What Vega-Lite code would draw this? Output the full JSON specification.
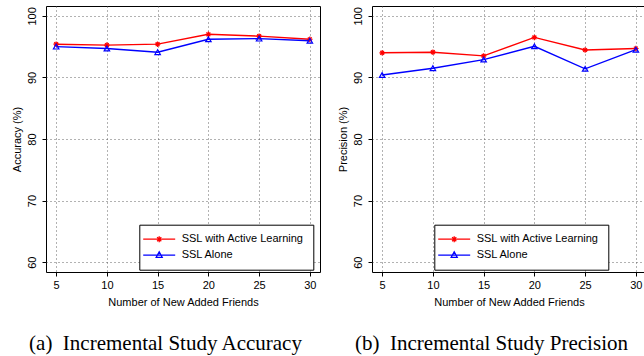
{
  "$schema": "https://vega.github.io/schema/vega-lite/v6.json",
  "padding": {"left": 10, "top": 5, "right": 0, "bottom": 0},
  "background": "white",
  "spacing": 15,
  "data": {"values": [
    {"panel": "acc", "friends": 5, "series": "SSL with Active Learning", "value": 95.4},
    {"panel": "acc", "friends": 10, "series": "SSL with Active Learning", "value": 95.25},
    {"panel": "acc", "friends": 15, "series": "SSL with Active Learning", "value": 95.4},
    {"panel": "acc", "friends": 20, "series": "SSL with Active Learning", "value": 97.0},
    {"panel": "acc", "friends": 25, "series": "SSL with Active Learning", "value": 96.7},
    {"panel": "acc", "friends": 30, "series": "SSL with Active Learning", "value": 96.2},
    {"panel": "acc", "friends": 5, "series": "SSL Alone", "value": 95.0},
    {"panel": "acc", "friends": 10, "series": "SSL Alone", "value": 94.7},
    {"panel": "acc", "friends": 15, "series": "SSL Alone", "value": 94.1},
    {"panel": "acc", "friends": 20, "series": "SSL Alone", "value": 96.2},
    {"panel": "acc", "friends": 25, "series": "SSL Alone", "value": 96.3},
    {"panel": "acc", "friends": 30, "series": "SSL Alone", "value": 95.95},
    {"panel": "prec", "friends": 5, "series": "SSL with Active Learning", "value": 94.0},
    {"panel": "prec", "friends": 10, "series": "SSL with Active Learning", "value": 94.1},
    {"panel": "prec", "friends": 15, "series": "SSL with Active Learning", "value": 93.5},
    {"panel": "prec", "friends": 20, "series": "SSL with Active Learning", "value": 96.5},
    {"panel": "prec", "friends": 25, "series": "SSL with Active Learning", "value": 94.45},
    {"panel": "prec", "friends": 30, "series": "SSL with Active Learning", "value": 94.7},
    {"panel": "prec", "friends": 5, "series": "SSL Alone", "value": 90.4},
    {"panel": "prec", "friends": 10, "series": "SSL Alone", "value": 91.5},
    {"panel": "prec", "friends": 15, "series": "SSL Alone", "value": 92.9},
    {"panel": "prec", "friends": 20, "series": "SSL Alone", "value": 95.05},
    {"panel": "prec", "friends": 25, "series": "SSL Alone", "value": 91.4},
    {"panel": "prec", "friends": 30, "series": "SSL Alone", "value": 94.5}
  ]},
  "resolve": {"scale": {"color": "independent", "y": "independent", "x": "independent"}, "legend": {"color": "independent"}},
  "hconcat": [
    {
      "width": 274,
      "height": 266,
      "transform": [{"filter": "datum.panel === 'acc'"}],
      "title": {"text": "(a)\u00a0 Incremental Study Accuracy", "orient": "bottom", "anchor": "middle", "frame": "bounds", "font": "Liberation Serif", "fontSize": 21, "fontWeight": "normal", "color": "black", "baseline": "alphabetic", "offset": 43},
      "encoding": {
        "x": {"field": "friends", "type": "quantitative", "scale": {"domain": [4, 31], "nice": false, "zero": false}, "axis": {"values": [5, 10, 15, 20, 25, 30], "title": "Number of New Added Friends", "labelPadding": 3, "titlePadding": 6}},
        "y": {"field": "value", "type": "quantitative", "scale": {"domain": [58.4, 101.6], "nice": false, "zero": false}, "axis": {"values": [60, 70, 80, 90, 100], "title": "Accuracy (%)", "labelAngle": 270, "labelAlign": "center", "labelBaseline": "bottom", "labelPadding": 5, "titlePadding": 4}},
        "color": {"field": "series", "type": "nominal", "scale": {"domain": ["SSL with Active Learning", "SSL Alone"], "range": ["#ff0000", "#0000ff"]}}
      },
      "layer": [
        {"mark": {"type": "line", "strokeWidth": 1.4},
         "encoding": {"color": {"field": "series", "type": "nominal", "scale": {"domain": ["SSL with Active Learning", "SSL Alone"], "range": ["#ff0000", "#0000ff"]},
           "legend": {"title": null, "orient": "none", "legendX": 93.3, "legendY": 218.7, "padding": 9, "strokeColor": "black", "fillColor": "white", "symbolSize": 36, "symbolOffset": 5.4, "labelOffset": 17, "rowPadding": 3, "labelFont": "Liberation Sans", "labelFontSize": 11, "labelColor": "black",
             "encode": {"symbols": {"update": {"shape": {"signal": "datum.value === 'SSL Alone' ? 'M-5.33,0H5.33M0,-1.1L1,0.7H-1Z' : 'M-5.33,0H5.33M0,-1V1M-1,0H1M-0.7,-0.7L0.7,0.7M-0.7,0.7L0.7,-0.7'"}, "fill": {"value": "transparent"}, "strokeWidth": {"value": 1.3}, "opacity": {"value": 1}}}}}}}},
        {"transform": [{"filter": "datum.series === 'SSL with Active Learning'"}],
         "mark": {"type": "point", "filled": false, "strokeWidth": 1.2, "opacity": 1, "shape": "M-1,0H1M0,-1V1M-0.7,-0.7L0.7,0.7M-0.7,0.7L0.7,-0.7", "size": 30},
         "encoding": {"color": {"field": "series", "type": "nominal", "legend": null}}},
        {"transform": [{"filter": "datum.series === 'SSL Alone'"}],
         "mark": {"type": "point", "filled": false, "strokeWidth": 1.2, "opacity": 1, "shape": "triangle-up", "size": 30},
         "encoding": {"color": {"field": "series", "type": "nominal", "legend": null}}}
      ]
    },
    {
      "width": 274,
      "height": 266,
      "transform": [{"filter": "datum.panel === 'prec'"}],
      "title": {"text": "(b)\u00a0 Incremental Study Precision", "orient": "bottom", "anchor": "middle", "frame": "bounds", "font": "Liberation Serif", "fontSize": 21, "fontWeight": "normal", "color": "black", "baseline": "alphabetic", "offset": 43},
      "encoding": {
        "x": {"field": "friends", "type": "quantitative", "scale": {"domain": [4, 31], "nice": false, "zero": false}, "axis": {"values": [5, 10, 15, 20, 25, 30], "title": "Number of New Added Friends", "labelPadding": 3, "titlePadding": 6}},
        "y": {"field": "value", "type": "quantitative", "scale": {"domain": [58.4, 101.6], "nice": false, "zero": false}, "axis": {"values": [60, 70, 80, 90, 100], "title": "Precision (%)", "labelAngle": 270, "labelAlign": "center", "labelBaseline": "bottom", "labelPadding": 5, "titlePadding": 4}},
        "color": {"field": "series", "type": "nominal", "scale": {"domain": ["SSL with Active Learning", "SSL Alone"], "range": ["#ff0000", "#0000ff"]}}
      },
      "layer": [
        {"mark": {"type": "line", "strokeWidth": 1.4},
         "encoding": {"color": {"field": "series", "type": "nominal", "scale": {"domain": ["SSL with Active Learning", "SSL Alone"], "range": ["#ff0000", "#0000ff"]},
           "legend": {"title": null, "orient": "none", "legendX": 62.3, "legendY": 218.7, "padding": 9, "strokeColor": "black", "fillColor": "white", "symbolSize": 36, "symbolOffset": 5.4, "labelOffset": 17, "rowPadding": 3, "labelFont": "Liberation Sans", "labelFontSize": 11, "labelColor": "black",
             "encode": {"symbols": {"update": {"shape": {"signal": "datum.value === 'SSL Alone' ? 'M-5.33,0H5.33M0,-1.1L1,0.7H-1Z' : 'M-5.33,0H5.33M0,-1V1M-1,0H1M-0.7,-0.7L0.7,0.7M-0.7,0.7L0.7,-0.7'"}, "fill": {"value": "transparent"}, "strokeWidth": {"value": 1.3}, "opacity": {"value": 1}}}}}}}},
        {"transform": [{"filter": "datum.series === 'SSL with Active Learning'"}],
         "mark": {"type": "point", "filled": false, "strokeWidth": 1.2, "opacity": 1, "shape": "M-1,0H1M0,-1V1M-0.7,-0.7L0.7,0.7M-0.7,0.7L0.7,-0.7", "size": 30},
         "encoding": {"color": {"field": "series", "type": "nominal", "legend": null}}},
        {"transform": [{"filter": "datum.series === 'SSL Alone'"}],
         "mark": {"type": "point", "filled": false, "strokeWidth": 1.2, "opacity": 1, "shape": "triangle-up", "size": 30},
         "encoding": {"color": {"field": "series", "type": "nominal", "legend": null}}}
      ]
    }
  ],
  "config": {
    "view": {"stroke": "black", "strokeWidth": 1},
    "axis": {"domain": false, "grid": true, "gridColor": "#555555", "gridDash": [1, 3], "gridWidth": 1, "gridOpacity": 0.9, "tickColor": "black", "tickSize": 4, "tickWidth": 1, "labelFont": "Liberation Sans", "labelFontSize": 11, "labelColor": "black", "titleFont": "Liberation Sans", "titleFontSize": 11, "titleFontWeight": "normal", "titleColor": "black"}
  }
}
